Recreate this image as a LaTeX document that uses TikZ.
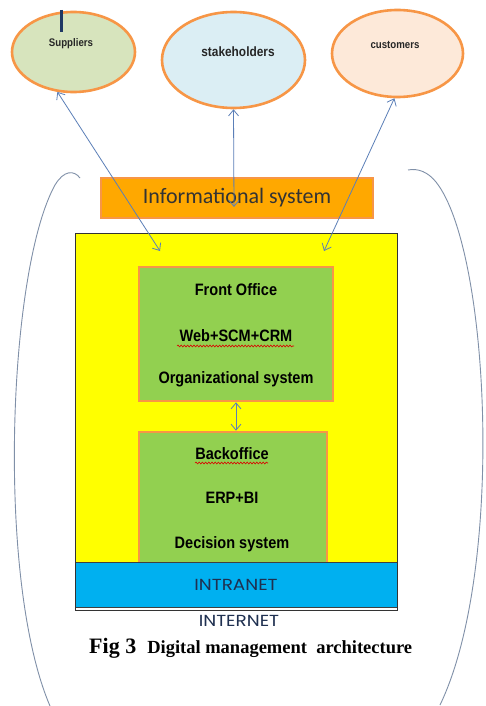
\documentclass[tikz,border=0pt]{standalone}
\usepackage{fontspec}
\setmainfont{Liberation Serif}
\newfontfamily\boxfont[FakeStretch=0.88]{Liberation Sans}
\newfontfamily\calfont{Carlito}
\newfontfamily\netfont[FakeStretch=1.15]{Poppins}
\usetikzlibrary{shapes.geometric,arrows.meta,decorations.pathmorphing}

\definecolor{rim}{HTML}{F79646}
\definecolor{supfill}{HTML}{D7E4BD}
\definecolor{stkfill}{HTML}{DBEEF4}
\definecolor{cusfill}{HTML}{FDE9D9}
\definecolor{infofill}{HTML}{FFA800}
\definecolor{officegreen}{HTML}{92D050}
\definecolor{coreyellow}{HTML}{FFFF00}
\definecolor{netblue}{HTML}{00B0F0}
\definecolor{linkblue}{HTML}{5B7FB8}
\definecolor{arcgray}{HTML}{8090A8}
\definecolor{navy}{HTML}{1F3864}
\definecolor{nettext}{HTML}{1F3050}

\tikzset{
  party/.style={ellipse, draw=rim, line width=2.6pt, inner sep=0pt},
  partytext/.style={inner sep=0pt, text=black!85},
  officebox/.style={rectangle, draw=rim, line width=2.6pt, fill=officegreen, inner sep=0pt},
  officetext/.style={font=\boxfont\bfseries\fontsize{16.5}{18}\selectfont, text=black, inner sep=0pt},
  link/.style={draw=linkblue, line width=0.8pt, {Straight Barb[length=6pt,width=10pt]}-{Straight Barb[length=6pt,width=10pt]}},
  bigarc/.style={draw=arcgray, line width=0.9pt},
  squiggle/.style={draw=red!85!black, line width=0.6pt, decorate, decoration={snake, amplitude=0.9pt, segment length=3.2pt}}
}

\begin{document}
\begin{tikzpicture}[x=1pt,y=-1pt]
\useasboundingbox[fill=white] (0,0) rectangle (486,706);

% outer parentheses
\draw[bigarc] (80,178) .. controls (74,170) and (64,170) .. (55,185)
              .. controls (8,270) and (-4,580) .. (50,706);
\draw[bigarc] (408,170) .. controls (418,168) and (428,172) .. (436,182)
              .. controls (490,250) and (505,570) .. (440,705);

% external parties
\node[party, fill=supfill, minimum width=123pt, minimum height=80pt] (sup) at (73.5,52) {};
\node[party, fill=stkfill, minimum width=143pt, minimum height=96pt] (stk) at (233.5,60) {};
\node[party, fill=cusfill, minimum width=131pt, minimum height=87pt] (cus) at (397.5,53.5) {};
\node[partytext, font=\boxfont\bfseries\fontsize{11}{12}\selectfont] (suplbl) at (71,44) {Suppliers};
\node[partytext, font=\boxfont\bfseries\fontsize{13.5}{14}\selectfont] (stklbl) at (238,52) {stakeholders};
\node[partytext, font=\boxfont\bfseries\fontsize{11}{12}\selectfont] (cuslbl) at (395,45) {customers};
\draw[navy, line width=3pt] (61,10) -- (61,32);

% informational system band
\node[rectangle, draw=rim, line width=2.6pt, fill=infofill, minimum width=272pt, minimum height=40pt, inner sep=0pt,
      font=\calfont\fontsize{22}{24}\selectfont, text=black!80] (info) at (237,198) {Informational system};

% enterprise frame
\node[rectangle, fill=coreyellow, minimum width=322pt, minimum height=329pt, inner sep=0pt] (core) at (236,397.5) {};

\node[officebox, minimum width=194pt, minimum height=134pt] (front) at (236,334) {};
\node[officetext] (fo1) at (236,290) {Front Office};
\node[officetext] (fo2) at (236,336) {Web+SCM+CRM};
\node[officetext] (fo3) at (236,379) {Organizational system};

\node[officebox, minimum width=188pt, minimum height=134pt] (back) at (233,499) {};
\node[officetext] (bo1) at (232,454) {Backoffice};
\node[officetext] (bo2) at (232,498) {ERP+BI};
\node[officetext] (bo3) at (232,544) {Decision system};

\draw[squiggle] (177,346) -- (294,346);
\draw[squiggle] (195,463) -- (268,463);

\node[rectangle, draw=black!75, line width=0.8pt, fill=netblue, minimum width=322pt, minimum height=45pt, inner sep=0pt,
      font=\netfont\fontsize{16}{17}\selectfont, text=nettext] (intranet) at (236,584.5) {INTRANET};
\draw[black!80, line width=0.9pt] (75,233) rectangle (397,610);

\node[font=\netfont\fontsize{16}{17}\selectfont, text=nettext, inner sep=0pt] (internet) at (239,621) {INTERNET};
\node[anchor=base west, inner sep=0pt] (caption) at (89,653)
  {\bfseries\fontsize{22}{24}\selectfont Fig 3\ \ \fontsize{18.5}{21}\selectfont Digital management\ \ architecture};

% information flows
\coordinate (supEnd) at (160,251);
\coordinate (stkEnd) at (234,207);
\coordinate (cusEnd) at (324,251);
\draw[link] (sup.-112) -- (supEnd);
\draw[link] (stk.south) -- (stkEnd);
\draw[link] (cus.-94) -- (cusEnd);
\draw[link] (front.south) -- (back.north -| front.south);
\end{tikzpicture}
\end{document}
